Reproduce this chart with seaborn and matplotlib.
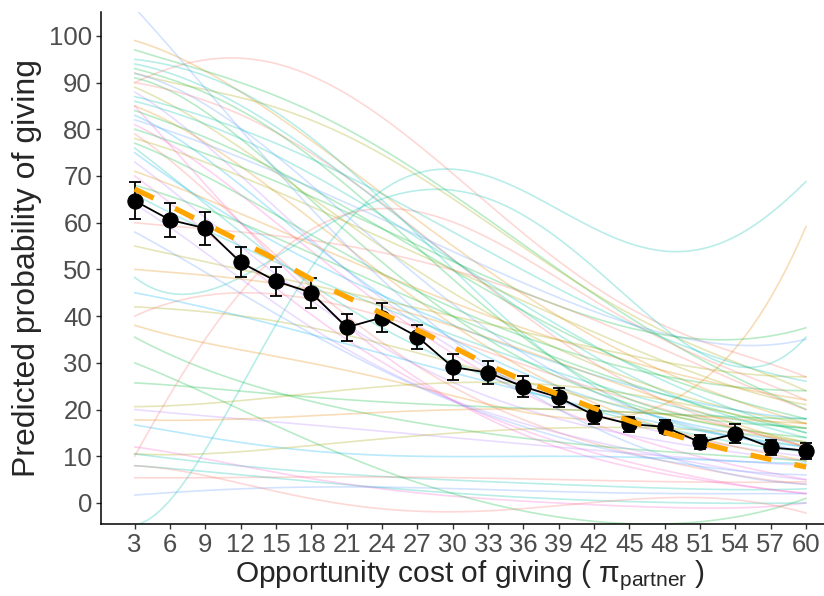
import matplotlib
matplotlib.use("Agg")
import matplotlib.pyplot as plt
import seaborn as sns

# mean predicted probability of giving per opportunity cost
cost = [3, 6, 9, 12, 15, 18, 21, 24, 27, 30, 33, 36, 39, 42, 45, 48, 51, 54, 57, 60]
mean_give = [64.7, 60.6, 58.8, 51.5, 47.5, 45.0, 37.6, 39.7, 35.6, 29.1,
             27.9, 24.9, 22.6, 18.8, 16.9, 16.3, 13.0, 14.8, 11.9, 11.2]
se_give = [3.9, 3.6, 3.5, 3.2, 3.1, 3.2, 2.9, 3.0, 2.6, 2.7,
           2.4, 2.2, 2.0, 2.0, 1.6, 1.4, 1.5, 2.0, 1.6, 1.7]
fit_give = [67.2, 63.6, 59.8, 56.0, 52.1, 47.9, 44.1, 40.6, 37.0, 33.4,
            29.6, 26.2, 23.2, 20.3, 17.6, 15.1, 12.9, 11.0, 9.3, 7.7]

# individual participant curves, read at a few costs
knots = [3, 12, 21, 30, 39, 48, 54, 60]
subject_curves = [
    [99, 88, 72, 55, 40, 28, 22, 17],
    [97, 90, 80, 66, 50, 35, 27, 20],
    [94, 85, 70, 52, 36, 24, 18, 14],
    [92, 87, 78, 66, 49, 37, 30, 24],
    [90, 95, 88, 70, 52, 38, 32, 27],
    [95, 88, 72, 50, 30, 18, 14, 12],
    [92, 80, 62, 42, 28, 18, 14, 11],
    [91, 78, 58, 40, 27, 19, 16, 14],
    [90, 83, 70, 52, 35, 22, 16, 12],
    [89, 76, 60, 45, 33, 24, 20, 17],
    [88, 70, 50, 33, 22, 15, 12, 10],
    [86, 78, 66, 52, 38, 26, 20, 15],
    [85, 72, 55, 38, 25, 16, 12, 9],
    [84, 75, 63, 50, 37, 27, 22, 18],
    [83, 68, 50, 35, 25, 18, 15, 13],
    [82, 74, 64, 54, 44, 36, 34, 35],
    [81, 66, 48, 32, 20, 12, 8, 5],
    [80, 72, 62, 52, 42, 36, 35, 37.5],
    [79, 60, 40, 25, 15, 9, 6, 4],
    [78, 70, 60, 50, 40, 30, 25, 21],
    [77, 66, 53, 42, 33, 27, 25, 24],
    [76, 58, 42, 30, 22, 16, 13, 11],
    [75, 60, 48, 38, 30, 23, 20, 18],
    [73, 55, 38, 26, 18, 13, 11, 9],
    [71, 62, 52, 43, 35, 28, 25, 22],
    [70, 52, 35, 22, 13, 7, 4, 2],
    [68, 60, 50, 40, 31, 23, 19, 15],
    [66, 55, 45, 36, 28, 21, 18, 16],
    [-5, 26, 57, 75, 61, 53.5, 58, 68.5],
    [48, 50, 58, 71, 55, 36, 31, 35],
    [38, 33, 28, 23, 19, 20, 34, 59],
    [50, 48, 44, 38, 30, 22, 17, 12],
    [42, 40, 36, 30, 24, 19, 16, 13],
    [40, 45, 42, 35, 27, 20, 16, 12],
    [35.5, 26, 20, 16, 13, 11, 10, 9],
    [25.7, 24, 22, 21, 20, 19, 18.5, 18],
    [20.6, 22, 24, 26, 25, 22, 19, 16],
    [20, 18, 16, 14, 12, 10, 9, 8],
    [17.8, 18, 19, 20, 20, 19, 18, 17],
    [16.7, 13, 10.5, 10, 10, 9.5, 9, 8.5],
    [10.5, 11, 13, 15, 16, 16, 15, 13],
    [10.5, 8, 6, 5, 4, 3, 3, 3],
    [5.4, 5.5, 5.5, 5.5, 5, 4.5, 4.5, 4.5],
    [1.7, 3, 3.5, 3, 2.5, 2, 2, 2],
    [8, 6, 4, 2, 1, 0, 0, 0],
    [12, 8, 4, 1.5, 0, -1, -1, 0],
    [60, 58, 55, 50, 42, 33, 26, 20],
    [55, 50, 45, 40, 35, 30, 28, 27],
    [58, 45, 32, 22, 14, 9, 7, 6],
    [64, 48, 33, 22, 15, 10, 7, 5],
    [10, 45, 62, 60, 48, 35, 28, 22],
    [85, 60, 38, 22, 12, 6, 4, 2],
    [106, 80, 55, 35, 20, 10, 6, 4],
    [93, 84, 68, 48, 30, 20, 17, 16],
    [87, 80, 70, 58, 46, 35, 30, 26],
    [45, 40, 34, 28, 22, 17, 14, 12],
    [30, 20, 10, 2, -3, -4.5, -3, 1],
    [8, 4, 0, -2, -1, 2, 0, -2],
]
curve_hue = [
    "orange", "green", "teal", "olive", "pink", "teal", "blue", "green",
    "pink", "olive", "purple", "teal", "orange", "green", "cyan", "blue",
    "magenta", "green", "pink", "olive", "green", "teal", "cyan", "purple",
    "orange", "magenta", "green", "teal", "teal", "teal", "orange", "orange",
    "olive", "pink", "green", "green", "olive", "purple", "orange", "cyan",
    "olive", "teal", "pink", "blue", "teal", "magenta", "pink", "olive",
    "blue", "purple", "pink", "magenta", "blue", "green", "teal", "cyan",
    "green", "pink",
]
hue_colors = {
    "pink": "#F8766D", "orange": "#E58700", "olive": "#A3A500",
    "green": "#00BA38", "teal": "#00C0AF", "cyan": "#00B0F6",
    "blue": "#619CFF", "purple": "#B983FF", "magenta": "#FD61D1",
}

sns.set_style("ticks")
plt.rcParams["font.family"] = ["Liberation Sans", "DejaVu Sans"]
plt.rcParams["mathtext.fontset"] = "custom"
plt.rcParams["mathtext.rm"] = "Liberation Sans"
plt.rcParams["mathtext.it"] = "Liberation Sans:italic"

fig = plt.figure(figsize=(8.24, 5.96), dpi=100)
ax = fig.add_axes([0.1226, 0.1208, 0.8964, 0.8591])

for vals, hue in zip(subject_curves, curve_hue):
    sns.regplot(x=knots, y=vals, order=5, scatter=False, ci=None, truncate=True,
                line_kws=dict(color=hue_colors[hue], alpha=0.28, lw=1.2, zorder=1), ax=ax)

sns.lineplot(x=cost, y=mean_give, color="black", lw=1.3, marker="o",
             markersize=11, markeredgecolor="black", zorder=3, ax=ax)
ax.errorbar(cost, mean_give, yerr=se_give, fmt="none", ecolor="black",
            elinewidth=1.3, capsize=4, capthick=1.3, zorder=3)
sns.lineplot(x=cost, y=fit_give, color="#FFA500", lw=3.8,
             linestyle=(0, (4, 4.5)), zorder=4, ax=ax)

ax.set_xlim(0.15, 62.85)
ax.set_ylim(-4.5, 105.1)
ax.set_xticks(cost)
ax.set_yticks(range(0, 101, 10))
ax.tick_params(axis="both", labelsize=18.5, labelcolor="#4D4D4D", color="#333333",
               length=3.5, width=1, pad=3)
for side in ["top", "right"]:
    ax.spines[side].set_visible(False)
for side in ["left", "bottom"]:
    ax.spines[side].set_color("black")
    ax.spines[side].set_linewidth(1.1)

ax.set_xlabel("Opportunity cost of giving ( \u03c0$_{\\mathrm{partner}}$ )", fontsize=21.5, labelpad=1)
ax.set_ylabel("Predicted probability of giving", fontsize=23, labelpad=5)

fig.savefig("out.png", dpi=100)
